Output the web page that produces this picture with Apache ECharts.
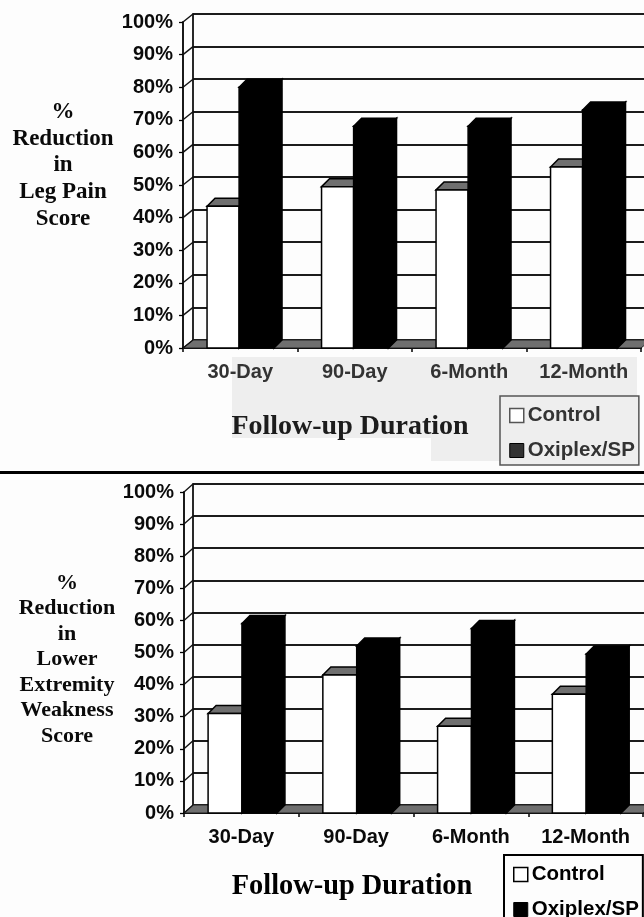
<!DOCTYPE html>
<html><head><meta charset="utf-8">
<style>html,body{margin:0;padding:0;background:#fdfdfd;overflow:hidden}#c{width:644px;height:917px}</style>
<script src="https://cdn.jsdelivr.net/npm/echarts@6/dist/echarts.min.js"></script>
</head><body><div id="c"></div>
<script>
const categories = ['30-Day', '90-Day', '6-Month', '12-Month'];
const seriesNames = ['Control', 'Oxiplex/SP'];
const yTicks = [0, 10, 20, 30, 40, 50, 60, 70, 80, 90, 100];
const legPainControl = [43.5, 49.5, 48.5, 55.5];
const legPainOxiplex = [80, 68, 68, 73];
const weaknessControl = [31, 43, 27, 37];
const weaknessOxiplex = [59, 52, 57.5, 49.5];
const legPainTitle = ['%', 'Reduction', 'in', 'Leg Pain', 'Score'];
const weaknessTitle = ['%', 'Reduction', 'in', 'Lower', 'Extremity', 'Weakness', 'Score'];
const xTitle = 'Follow-up Duration';

const SANS = '"Liberation Sans", Arial, sans-serif';
const SERIF = '"Liberation Serif", "Times New Roman", serif';

const grid = [], xAxis = [], yAxis = [], series = [], legend = [];

function barItem(start, ratio, face, topFace, depth) {
  return function (params, api) {
    const i = api.value(0), v = api.value(1);
    const band = api.size([1, 0])[0];
    const base = api.coord([i, 0]), top = api.coord([i, v]);
    const x0 = base[0] - band / 2 + band * start;
    const x1 = x0 + band * ratio;
    const y0 = base[1], y1 = top[1];
    const st = { stroke: '#000', lineWidth: 1.5 };
    const poly = (pts, fill) => ({ type: 'polygon', shape: { points: pts }, style: Object.assign({ fill }, st) });
    return {
      type: 'group',
      children: [
        poly([[x1, y0], [x1 + depth, y0 - depth], [x1 + depth, y1 - depth], [x1, y1]], face === '#000' ? '#000' : '#ddd'),
        poly([[x0, y1], [x0 + depth, y1 - depth], [x1 + depth, y1 - depth], [x1, y1]], topFace),
        poly([[x0, y0], [x1, y0], [x1, y1], [x0, y1]], face)
      ]
    };
  };
}

function panel(p) {
  const gf = grid.length, gb = gf + 1;
  grid.push({ left: p.left, top: p.top, width: p.width, height: p.height });
  grid.push({ left: p.left + p.dx, top: p.top + p.dy, width: p.width, height: p.height });
  xAxis.push({
    type: 'category', gridIndex: gf, data: categories,
    axisLine: { lineStyle: { color: '#000', width: 1.8 } },
    axisTick: { show: true, length: 4, lineStyle: { color: '#000', width: 1.5 } },
    axisLabel: { interval: 0, margin: 14, fontFamily: SANS, fontWeight: 'bold', fontSize: 20, color: p.catColor }
  });
  xAxis.push({
    type: 'category', gridIndex: gb, data: categories,
    axisLine: { show: false }, axisTick: { show: false }, axisLabel: { show: false }
  });
  yAxis.push({
    type: 'value', gridIndex: gf, min: 0, max: 100, interval: 10,
    axisLine: { show: true, lineStyle: { color: '#000', width: 1.8 } },
    axisTick: { show: true, length: 4, lineStyle: { color: '#000', width: 1.3 } },
    splitLine: { show: false },
    axisLabel: { margin: 10, fontFamily: SANS, fontWeight: 'bold', fontSize: 20, color: '#0a0a0a', formatter: '{value}%' }
  });
  yAxis.push({
    type: 'value', gridIndex: gb, min: 0, max: 100, interval: 10,
    axisLine: { show: true, lineStyle: { color: '#111', width: 1.8 } },
    axisTick: { show: false }, axisLabel: { show: false },
    splitLine: { show: true, lineStyle: { color: '#1c1c1c', width: 2.2, type: 'solid' } }
  });
  const ax = { xAxisIndex: xAxis.length - 2, yAxisIndex: yAxis.length - 2 };
  // floor
  series.push(Object.assign({
    type: 'custom', silent: true, z: 1, data: [[0, 0]],
    renderItem: (params, api) => {
      const b = api.coord([0, 0])[1], c = params.coordSys;
      return { type: 'polygon', shape: { points: [[c.x, b], [c.x + p.dx, b + p.dy], [c.x + c.width + p.dx, b + p.dy], [c.x + c.width, b]] },
        style: { fill: '#6f6f6f', stroke: '#222', lineWidth: 1 } };
    }
  }, ax));
  // left wall connectors
  series.push(Object.assign({
    type: 'custom', silent: true, z: 1, data: yTicks.map(v => [0, v]),
    renderItem: (params, api) => {
      const y = api.coord([0, api.value(1)])[1], x = params.coordSys.x;
      return { type: 'line', shape: { x1: x, y1: y, x2: x + p.dx, y2: y + p.dy }, style: { stroke: '#111', lineWidth: 1.4 } };
    }
  }, ax));
  const enc = { x: 0, y: 1 };
  series.push(Object.assign({
    type: 'custom', name: seriesNames[0], z: 2, encode: enc,
    itemStyle: { color: '#fff', borderColor: '#000', borderWidth: 1.2 },
    data: p.control.map((v, i) => [i, v]),
    renderItem: barItem(p.barStart, p.ctrlRatio, '#fff', '#6f6f6f', 8)
  }, ax));
  series.push(Object.assign({
    type: 'custom', name: seriesNames[1], z: 3, encode: enc,
    itemStyle: { color: '#000', borderColor: '#000', borderWidth: 1.2 },
    data: p.oxiplex.map((v, i) => [i, v]),
    renderItem: barItem(p.barStart + p.ctrlRatio, p.oxiRatio, '#000', '#000', 8)
  }, ax));
  legend.push({
    orient: 'vertical', left: p.legend.left, top: p.legend.top, width: 145, height: 70,
    padding: [p.legend.padTop, 4, 4, p.legend.padLeft], itemGap: p.legend.gap, itemWidth: 14, itemHeight: 14,
    backgroundColor: p.legend.bg, borderColor: p.legend.border, borderWidth: p.legend.bw, selectedMode: false,
    textStyle: { fontFamily: SANS, fontWeight: 'bold', fontSize: 20.5, color: p.legend.text, padding: [0, 0, 0, -1] },
    data: seriesNames.map((n, i) => ({ name: n, icon: 'rect',
      itemStyle: i ? { color: p.legend.dark, borderColor: '#000', borderWidth: 1 } : { color: '#fff', borderColor: p.legend.border, borderWidth: 1.5 } }))
  });
}

panel({
  left: 183, top: 22, width: 458, height: 326, dx: 10, dy: -8,
  control: legPainControl, oxiplex: legPainOxiplex,
  barStart: 0.21, ctrlRatio: 0.28, oxiRatio: 0.305, catColor: '#333',
  legend: { left: 500, top: 396, padTop: 9, padLeft: 9, gap: 14, bg: '#eeeeee', border: '#555', bw: 1.5, text: '#333', dark: '#333' }
});
panel({
  left: 184, top: 492, width: 459, height: 321, dx: 9, dy: -8,
  control: weaknessControl, oxiplex: weaknessOxiplex,
  barStart: 0.21, ctrlRatio: 0.295, oxiRatio: 0.305, catColor: '#0a0a0a',
  legend: { left: 504, top: 855, padTop: 9, padLeft: 9, gap: 14, bg: '#fdfdfd', border: '#000', bw: 2, text: '#000', dark: '#000' }
});

const stack = (lines, x, y, size, lh, color) => ({
  type: 'text', x, y, z: 10,
  style: { text: lines.join('\n'), fontFamily: SERIF, fontWeight: 'bold', fontSize: size, lineHeight: lh, fill: color, align: 'center', verticalAlign: 'middle' }
});
const graphic = [
  { type: 'rect', z: -10, shape: { x: 232, y: 357, width: 405, height: 81 }, style: { fill: '#eeeeee' } },
  { type: 'rect', z: -10, shape: { x: 431, y: 438, width: 206, height: 23 }, style: { fill: '#eeeeee' } },
  { type: 'rect', z: 10, shape: { x: 0, y: 471, width: 644, height: 3 }, style: { fill: '#000' } },
  stack(legPainTitle, 63, 165.5, 23, 26.75, '#0a0a0a'),
  stack(weaknessTitle, 67, 659.5, 22, 25.5, '#0a0a0a'),
  stack([xTitle], 350, 427, 28, 30, '#1c1c1c'),
  stack([xTitle], 352, 887, 28.4, 30, '#000')
];

const chart = echarts.init(document.getElementById('c'), null, { renderer: 'canvas', width: 644, height: 917 });
chart.setOption({ animation: false, backgroundColor: '#fdfdfd', grid, xAxis, yAxis, series, legend, graphic });
</script></body></html>
